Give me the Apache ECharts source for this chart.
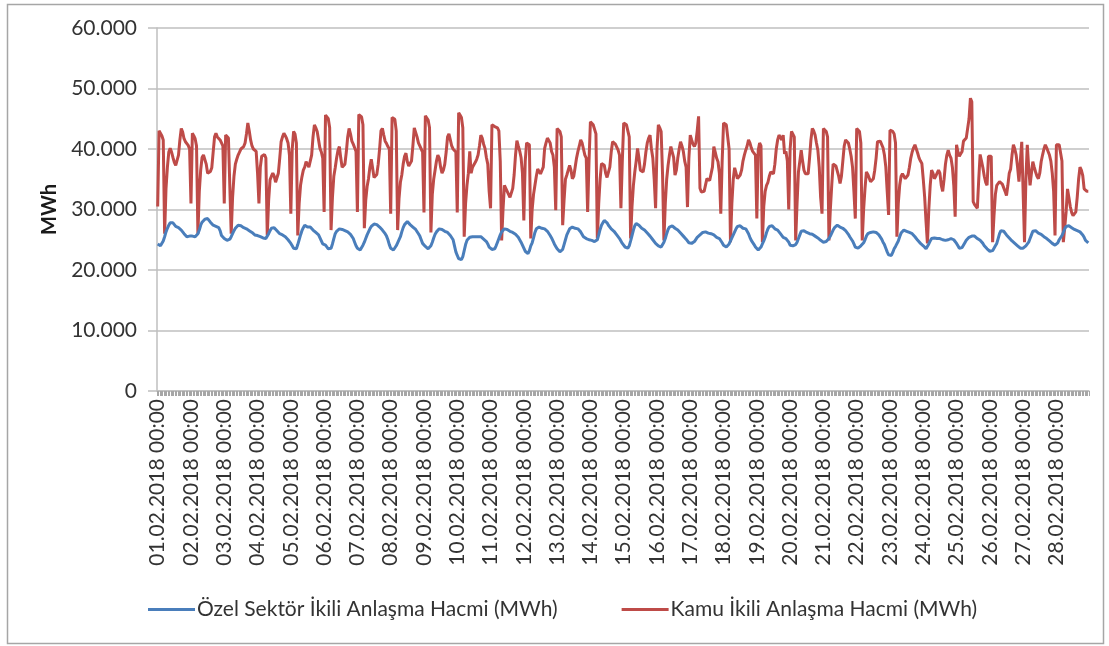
<!DOCTYPE html>
<html>
<head>
<meta charset="utf-8">
<script src="https://cdn.jsdelivr.net/npm/echarts@6/dist/echarts.min.js"></script>
<style>
html,body{margin:0;padding:0;background:#fff;}
#chart{width:1109px;height:646px;}
</style>
</head>
<body>
<div id="chart"></div>
<script>
// Values in thousand MWh (axis labels show them as "xx.000")
const seriesNames = ['Özel Sektör İkili Anlaşma Hacmi (MWh)', 'Kamu İkili Anlaşma Hacmi (MWh)'];
const yTickLabels = ['0', '10.000', '20.000', '30.000', '40.000', '50.000', '60.000'];
const dayLabels = ['01','02','03','04','05','06','07','08','09','10','11','12','13','14','15','16','17','18','19','20','21','22','23','24','25','26','27','28'];
const hourLabels = ['00','01','02','03','04','05','06','07','08','09','10','11','12','13','14','15','16','17','18','19','20','21','22','23'];

// Özel Sektör, one row of 24 hourly values per day
const ozelByDay = [
 [24.3,24.0,24.0,24.2,24.8,25.5,26.3,26.9,27.4,27.8,28.0,27.8,27.5,27.2,27.2,27.0,26.8,26.6,26.3,26.0,25.8,25.5,25.6,25.6],
 [25.7,25.6,25.5,25.5,25.6,26.0,26.6,27.4,27.9,28.2,28.4,28.5,28.5,28.2,27.9,27.6,27.4,27.3,27.2,27.1,27.0,26.5,25.7,25.4],
 [25.2,25.0,24.9,24.9,25.1,25.5,26.0,26.5,26.9,27.2,27.4,27.4,27.3,27.1,27.0,26.9,26.8,26.7,26.5,26.3,26.2,26.0,25.8,25.7],
 [25.7,25.6,25.5,25.4,25.3,25.2,25.2,25.5,26.0,26.5,26.9,27.1,27.0,26.8,26.5,26.2,26.0,25.9,25.8,25.6,25.5,25.3,25.0,24.7],
 [24.4,24.0,23.6,23.3,23.5,24.2,25.0,25.8,26.5,27.0,27.4,27.3,27.1,27.0,27.1,26.9,26.6,26.4,26.2,26.0,25.8,25.3,24.8,24.3],
 [24.0,24.1,23.8,23.5,23.5,23.6,24.3,25.2,26.0,26.4,26.6,26.8,26.8,26.7,26.6,26.5,26.4,26.3,26.2,25.9,25.6,25.2,24.6,24.0],
 [23.6,23.4,23.3,23.6,24.1,24.6,25.2,25.8,26.3,26.8,27.2,27.5,27.6,27.7,27.5,27.3,27.1,26.9,26.6,26.3,26.0,25.6,25.0,24.2],
 [23.6,23.4,23.3,23.6,24.0,24.5,24.7,25.5,26.3,27.0,27.5,27.8,28.0,27.8,27.5,27.3,27.1,26.9,26.7,26.4,26.0,25.6,25.0,24.4],
 [24.2,23.9,23.6,23.5,23.6,24.0,24.6,25.3,25.9,26.3,26.6,26.8,26.8,26.7,26.5,26.4,26.3,26.2,26.0,25.7,25.4,25.0,24.0,23.0],
 [22.4,21.9,21.6,21.7,22.2,23.2,24.2,24.9,25.2,25.4,25.5,25.5,25.5,25.5,25.4,25.5,25.5,25.5,25.3,25.1,24.9,24.7,24.3,23.8],
 [23.6,23.4,23.3,23.5,24.0,24.6,25.2,25.8,26.3,26.6,26.8,26.8,26.7,26.6,26.4,26.3,26.2,26.0,25.9,25.7,25.4,25.0,24.6,24.1],
 [23.6,23.1,22.8,22.7,23.2,24.0,24.5,25.3,26.2,26.8,27.1,27.1,27.0,26.9,26.8,26.8,26.6,26.4,26.1,25.7,25.3,24.8,24.3,23.9],
 [23.5,23.2,23.0,23.0,23.4,24.2,25.0,25.8,26.3,26.8,27.1,27.1,27.0,26.9,26.8,26.8,26.6,26.3,26.0,25.5,25.3,25.2,25.1,25.0],
 [24.9,24.9,24.8,24.7,24.6,25.0,25.8,26.7,27.4,27.8,28.2,28.1,27.8,27.4,27.1,26.8,26.6,26.4,26.1,25.8,25.5,25.2,24.8,24.4],
 [24.1,23.8,23.5,23.6,24.0,24.8,25.7,26.6,27.3,27.7,27.6,27.4,27.2,26.9,26.8,26.6,26.4,26.1,25.8,25.6,25.3,25.0,24.7,24.4],
 [24.2,24.0,23.9,23.8,24.0,24.6,25.2,26.0,26.7,27.1,27.4,27.3,27.1,26.9,26.8,26.6,26.4,26.1,25.8,25.6,25.4,25.1,24.8,24.5],
 [24.4,24.4,24.5,24.7,25.0,25.4,25.6,25.8,26.0,26.2,26.3,26.3,26.2,26.1,26.0,26.0,25.9,25.8,25.6,25.4,25.3,25.2,24.9,24.5],
 [24.1,23.9,23.8,23.9,24.3,24.8,25.3,25.8,26.3,26.8,27.2,27.4,27.3,27.1,26.9,26.8,26.8,26.5,26.0,25.4,24.9,24.6,24.2,23.8],
 [23.5,23.3,23.4,23.8,24.3,24.8,25.4,26.2,26.8,27.2,27.4,27.3,27.0,26.8,26.8,26.6,26.3,26.0,25.7,25.4,25.2,25.2,25.0,24.6],
 [24.1,24.0,24.0,24.1,24.2,24.6,25.2,25.8,26.4,26.6,26.5,26.4,26.2,26.1,26.0,26.0,25.9,25.8,25.6,25.5,25.3,25.1,24.9,24.7],
 [24.6,24.6,24.7,24.9,25.2,25.6,26.1,26.6,27.0,27.3,27.4,27.3,27.1,27.0,26.9,26.8,26.5,26.2,25.9,25.5,25.2,24.8,24.3,23.8],
 [23.5,23.6,23.8,24.0,24.1,24.5,25.0,25.6,26.0,26.1,26.2,26.2,26.3,26.3,26.2,26.0,25.8,25.5,25.1,24.6,24.2,23.6,23.0,22.5],
 [22.2,22.4,22.9,23.5,23.9,24.1,24.8,25.5,26.1,26.4,26.6,26.5,26.4,26.3,26.2,26.1,26.0,25.8,25.5,25.2,24.9,24.6,24.4,24.2],
 [24.0,23.7,23.5,23.8,24.3,24.8,25.2,25.2,25.3,25.2,25.2,25.3,25.2,25.1,25.0,25.0,24.9,24.9,25.0,25.1,25.2,25.2,25.0,24.7],
 [24.4,24.0,23.6,23.5,23.7,24.0,24.5,24.9,25.2,25.4,25.5,25.6,25.7,25.6,25.4,25.2,25.0,24.9,24.7,24.4,24.0,23.7,23.5,23.3],
 [23.1,23.0,23.2,23.6,24.0,24.4,25.2,26.0,26.5,26.6,26.4,26.1,25.8,25.6,25.3,25.0,24.8,24.6,24.4,24.2,24.0,23.8,23.6,23.5],
 [23.6,23.8,24.0,24.2,24.6,25.2,25.8,26.4,26.6,26.5,26.3,26.1,26.0,25.9,25.7,25.5,25.3,25.2,25.0,24.8,24.6,24.4,24.2,24.1],
 [24.2,24.5,25.0,25.3,25.7,26.2,26.8,27.2,27.4,27.3,27.1,27.0,26.8,26.7,26.6,26.5,26.4,26.3,26.1,25.8,25.4,24.9,24.7,24.5]
];

// Kamu, one row of 24 hourly values per day
const kamuByDay = [
 [30.5,43.0,42.6,42.2,41.5,26.0,33.5,37.0,39.5,40.1,39.5,38.6,37.8,37.3,37.5,39.0,41.5,43.4,42.8,41.7,41.2,40.9,40.6,40.0],
 [31.0,42.6,42.2,41.7,40.5,26.0,33.0,36.5,38.6,39.0,39.2,37.5,36.0,35.7,36.3,36.9,39.5,42.0,42.6,42.0,41.7,41.5,41.2,40.5],
 [31.0,42.3,42.0,41.8,41.7,26.0,32.0,35.5,37.5,38.3,39.0,39.5,40.0,40.2,40.4,41.0,42.5,44.3,43.0,41.5,40.5,40.0,39.8,39.6],
 [36.0,31.0,37.0,38.8,39.0,39.1,38.5,25.7,31.5,34.9,35.5,36.0,35.5,34.5,34.3,36.0,38.5,41.2,42.0,42.6,42.2,41.7,41.0,39.0],
 [29.3,40.0,42.9,42.5,41.0,25.7,31.0,34.0,35.4,36.5,37.0,37.9,37.5,37.0,37.3,39.0,42.0,44.0,43.5,42.9,41.5,40.1,39.5,38.5],
 [29.6,45.6,45.3,45.0,43.5,26.6,32.0,35.5,36.9,38.5,39.8,40.4,38.5,37.0,37.2,37.5,39.5,42.0,43.4,42.5,41.3,40.8,40.2,39.6],
 [29.6,45.7,45.5,45.3,44.0,26.9,31.5,33.8,35.1,37.0,38.3,38.6,35.3,35.5,35.8,37.5,40.0,43.0,43.4,42.3,41.3,40.9,40.4,40.0],
 [29.3,45.2,45.0,44.9,43.0,26.6,31.8,34.5,35.7,37.5,38.8,39.3,37.9,37.2,37.0,38.0,40.5,43.5,43.2,42.0,41.0,40.5,40.0,39.5],
 [29.5,45.5,45.2,44.8,43.5,26.2,32.5,35.0,36.5,38.0,39.0,38.5,37.0,36.0,36.5,37.5,39.5,42.0,42.5,41.5,40.5,40.0,39.7,39.5],
 [29.5,46.0,45.6,45.2,43.5,25.5,31.0,34.0,36.0,39.6,36.0,37.0,37.3,37.8,38.3,39.0,40.5,42.3,41.8,40.8,40.1,38.6,37.5,33.0],
 [30.2,44.0,43.8,43.7,43.7,43.5,43.0,38.0,24.9,30.0,34.0,33.5,33.0,32.5,32.0,31.8,33.5,35.7,39.0,41.4,40.5,39.7,38.6,36.0],
 [28.2,38.0,41.0,40.8,40.7,25.2,30.0,32.5,34.0,35.5,36.7,36.3,35.9,35.7,37.0,40.1,41.0,41.8,42.0,41.0,39.6,39.0,37.0,29.9],
 [43.4,43.2,42.9,42.0,27.4,31.5,35.0,35.7,36.5,37.3,36.5,35.1,35.5,37.0,38.5,39.6,40.5,41.5,41.0,40.0,39.0,38.5,29.6,38.0],
 [44.5,44.3,44.0,43.7,42.5,25.2,31.0,35.0,37.6,37.5,37.3,36.0,35.3,35.1,37.0,39.5,41.2,41.0,40.8,40.7,39.8,39.0,30.2,38.0],
 [44.3,44.3,44.0,43.7,42.0,25.2,30.5,34.0,36.2,38.0,40.1,38.5,36.5,36.2,36.2,37.5,39.5,41.0,41.8,42.3,40.0,38.5,35.0,30.2],
 [40.0,44.0,43.5,42.9,36.0,24.9,31.0,35.0,37.3,39.0,40.4,39.5,38.6,35.7,36.5,38.5,40.0,41.2,40.5,39.6,38.0,37.0,30.4,38.5],
 [42.3,41.5,40.8,40.4,41.0,43.0,45.4,33.5,32.9,33.0,33.0,32.9,35.1,35.0,34.8,34.6,37.0,40.4,39.5,38.5,37.9,36.0,29.3,38.0],
 [44.3,44.2,44.0,43.7,40.0,24.6,31.0,35.0,36.9,36.0,35.1,35.4,35.7,36.5,38.0,39.0,39.8,40.5,41.5,41.0,40.2,39.6,39.3,39.0],
 [28.5,39.8,41.0,40.5,24.6,30.5,33.0,34.0,34.5,35.5,36.2,36.0,35.9,37.5,40.0,41.5,42.3,42.0,41.5,42.3,39.2,39.6,38.0,30.0],
 [40.0,42.9,42.6,42.0,24.9,31.0,36.2,38.0,39.8,38.0,36.5,35.9,35.9,35.9,38.5,41.5,43.4,43.0,42.3,41.0,39.8,37.0,32.0,29.3],
 [43.4,43.2,42.9,42.0,24.9,30.0,34.0,37.5,37.5,37.2,36.9,35.5,34.3,35.5,38.0,40.5,41.5,41.3,41.0,40.0,38.8,37.0,33.0,28.5],
 [43.4,43.2,42.9,41.0,24.9,30.0,33.5,36.2,35.8,35.2,34.6,34.8,35.1,36.5,38.5,41.2,41.0,41.3,41.5,40.2,39.0,37.0,33.0,29.1],
 [43.1,43.0,42.9,42.5,41.0,25.5,31.0,34.0,35.5,35.9,35.5,35.1,35.3,35.7,37.0,38.5,39.5,40.2,40.7,40.0,39.3,38.5,38.0,37.6],
 [35.0,32.1,28.0,24.4,30.0,34.0,36.5,36.0,35.1,35.5,36.0,36.5,36.0,34.0,33.0,35.0,37.5,39.0,39.8,39.0,38.5,37.0,34.0,28.8],
 [40.7,39.5,38.8,39.2,39.6,41.3,41.5,41.8,42.0,45.0,48.4,47.8,31.3,30.8,30.5,30.2,35.0,39.1,38.0,36.9,35.5,34.5,34.0,38.8],
 [38.8,38.8,24.6,29.0,32.5,34.0,34.3,34.6,34.4,34.2,34.0,33.0,32.3,34.0,36.0,36.7,39.0,40.7,40.0,39.0,37.0,34.6,38.0,41.2],
 [41.2,24.6,35.0,40.7,37.0,34.0,36.0,37.9,37.0,36.2,35.5,35.1,36.0,37.9,39.0,40.0,40.7,40.2,39.6,39.0,38.0,36.0,33.0,25.7],
 [40.7,40.8,40.7,40.5,38.0,24.6,27.0,29.6,33.4,32.0,30.5,29.5,29.0,29.3,29.6,32.0,35.0,37.0,36.5,35.6,33.4,33.2,33.0,33.0]
];

const categories = [];
dayLabels.forEach(d => hourLabels.forEach(h => categories.push(d + '.02.2018 ' + h + ':00')));
const ozel = [].concat(...ozelByDay);
const kamu = [].concat(...kamuByDay);

const FONT = 'Lato, "Open Sans", sans-serif';
const chart = echarts.init(document.getElementById('chart'), null, {renderer: 'canvas'});
chart.setOption({
  animation: false,
  backgroundColor: '#ffffff',
  graphic: [{
    type: 'rect', left: 5, top: 2, z: 100, silent: true,
    shape: {width: 1096, height: 639},
    style: {fill: 'none', stroke: '#a6a6a6', lineWidth: 1.5}
  }],
  grid: {left: 157, right: 20, top: 28, bottom: 255, containLabel: false},
  legend: {
    left: 143, top: 594,
    icon: 'rect', itemWidth: 47, itemHeight: 3, itemGap: 64,
    textStyle: {fontFamily: FONT, fontSize: 21, color: '#333333', padding: [0, 0, 0, -3]},
    data: seriesNames
  },
  xAxis: {
    type: 'category',
    data: categories,
    boundaryGap: true,
    axisLine: {lineStyle: {color: '#bfbfbf', width: 1.5}},
    axisTick: {show: true, interval: 0, length: 5, lineStyle: {color: '#a6a6a6', width: 1}},
    axisLabel: {
      interval: 23, rotate: 90, margin: 8,
      fontFamily: FONT, fontSize: 21, color: '#333333'
    },
    splitLine: {show: false}
  },
  yAxis: {
    type: 'value', min: 0, max: 60, interval: 10,
    name: 'MWh', nameLocation: 'middle', nameRotate: 90, nameGap: 97,
    nameTextStyle: {fontFamily: FONT, fontSize: 20, fontWeight: 'bold', color: '#1a1a1a'},
    axisLine: {show: true, lineStyle: {color: '#bfbfbf', width: 1.5}},
    axisTick: {show: true, length: 9, lineStyle: {color: '#bfbfbf', width: 1.5}},
    axisLabel: {
      margin: 20, fontFamily: FONT, fontSize: 21, color: '#333333',
      formatter: v => yTickLabels[Math.round(v / 10)]
    },
    splitLine: {show: true, lineStyle: {color: '#bfbfbf', width: 1.5}}
  },
  series: [
    {name: seriesNames[0], type: 'line', data: ozel, symbol: 'none', showSymbol: false,
     lineStyle: {color: '#4a7ebb', width: 3}, itemStyle: {color: '#4a7ebb'}, z: 3},
    {name: seriesNames[1], type: 'line', data: kamu, symbol: 'none', showSymbol: false,
     lineStyle: {color: '#be4b48', width: 3}, itemStyle: {color: '#be4b48'}, z: 2}
  ]
});
</script>
</body>
</html>
